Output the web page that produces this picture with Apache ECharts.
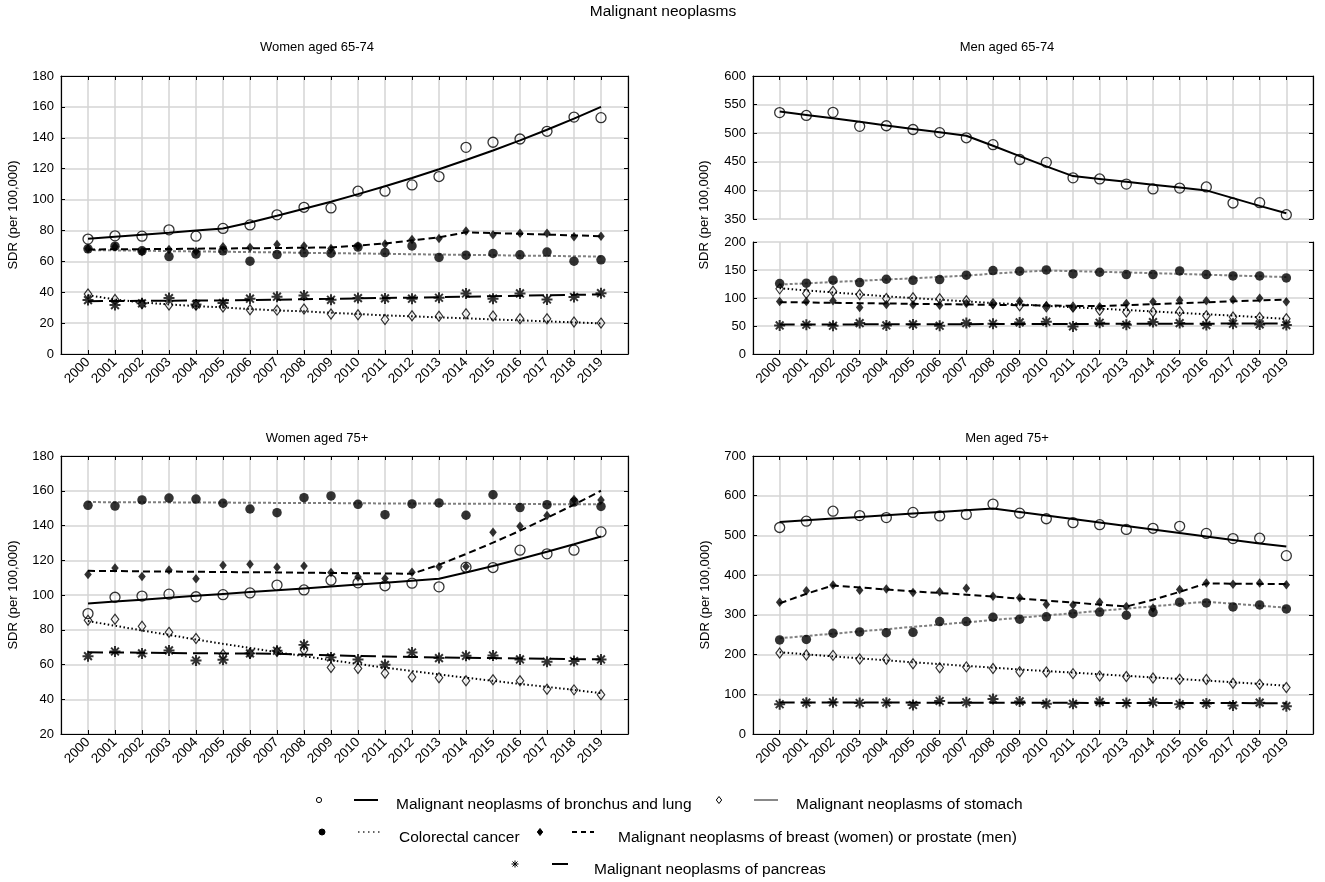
<!DOCTYPE html>
<html><head><meta charset="utf-8">
<script src="https://cdn.jsdelivr.net/npm/echarts@6/dist/echarts.min.js"></script>
<style>html,body{margin:0;padding:0;background:#fff}#c{width:1325px;height:882px}</style>
</head><body><div id="c"></div>
<script>
const years = [2000,2001,2002,2003,2004,2005,2006,2007,2008,2009,2010,2011,2012,2013,2014,2015,2016,2017,2018,2019];

// Women aged 65-74
const w65_lung_obs   = [74.4,76.5,76.3,80.4,76.3,81.3,83.6,90.1,95.0,94.6,105.4,105.4,109.5,114.9,133.8,137.1,139.2,144.2,153.4,153.0];
const w65_lung_fit   = [74.6,75.9,77.2,78.5,79.9,81.2,85.2,89.5,94.0,98.6,103.5,108.6,114.0,119.6,125.6,131.8,138.3,145.2,152.4,160.0];
const w65_crc_obs    = [68.1,69.8,66.8,63.1,64.7,66.8,60.1,64.4,65.5,65.3,69.2,65.7,70.0,62.5,64.0,65.1,64.2,66.0,60.1,61.0];
const w65_crc_fit    = [67.3,67.1,66.9,66.6,66.4,66.2,66.0,65.8,65.5,65.3,65.1,64.9,64.6,64.4,64.2,64.0,63.7,63.5,63.3,63.1];
const w65_stom_obs   = [38.8,35.3,32.5,31.7,31.5,30.4,28.7,28.4,29.1,25.9,25.4,22.4,24.8,24.4,26.1,24.6,22.8,22.8,20.7,20.0];
const w65_stom_fit   = [38.1,35.3,33.4,32.1,31.0,30.2,29.1,28.2,27.6,26.7,25.9,25.0,24.4,23.7,23.1,22.4,21.8,21.1,20.5,19.8];
const w65_breast_obs = [68.1,69.4,66.2,67.7,66.5,69.4,69.0,70.9,70.0,68.3,70.0,71.3,74.1,74.8,79.7,77.2,78.2,78.2,75.9,76.3];
const w65_breast_fit = [67.7,67.8,67.9,68.0,68.2,68.3,68.5,68.6,68.8,69.0,70.2,71.6,73.6,75.6,78.8,78.3,77.8,77.3,76.8,76.3];
const w65_panc_obs   = [34.9,31.7,32.8,36.2,32.1,33.0,35.8,37.1,37.9,35.1,36.2,36.0,35.8,36.4,39.2,35.8,39.2,35.3,36.9,39.4];
const w65_panc_fit   = [34.2,34.3,34.4,34.5,34.6,34.7,35.0,35.2,35.5,35.7,36.0,36.3,36.5,36.8,37.1,37.4,37.7,38.0,38.3,38.6];

// Men aged 65-74
const m65_lung_obs   = [536,531,536.5,512,513,506.5,501,492,480,454,449,422,420,411,402.5,404,406,378,378.5,357.5];
const m65_lung_fit   = [538,532,526,520,513.5,507.5,501.5,495.5,478,460,442,425,420,415,410,405,400,386.5,373,360];
const m65_crc_obs    = [125.8,126.4,131.8,127.6,133.5,131.5,132.9,140.7,149.0,147.8,150.1,143.0,146.0,141.8,141.8,148.4,141.8,139.5,139.5,135.9];
const m65_crc_fit    = [124,126.2,128.5,130.7,133,135.3,137.6,140,143.5,146.5,149,148,146.8,145.6,144.4,143,141.6,140.2,138.8,137.4];
const m65_stom_obs   = [116.3,108.0,112.2,106.2,99.1,100.3,98.5,95.0,89.6,86.0,84.3,83.7,78.3,74.8,74.8,76.0,68.2,65.9,65.3,62.9];
const m65_stom_fit   = [117.5,113.5,110,106.5,103,100,97,94,91,88.5,86,83.5,81,78.5,76,73.5,71,68.5,65.5,62.5];
const m65_prost_obs  = [93.8,93.8,95.0,83.1,88.4,87.8,87.2,90.2,89.0,94.4,85.5,83.1,84.3,90.2,93.2,96.1,95.0,96.7,99.7,93.2];
const m65_prost_fit  = [92.6,92.0,91.4,90.8,90.2,89.6,89.0,88.4,87.8,87.2,86.6,86.0,85.5,87.2,88.9,90.6,92.3,94.0,95.7,97.3];
const m65_panc_obs   = [51.0,52.2,50.4,55.2,51.0,52.8,50.4,55.2,54.0,56.4,57.6,49.3,55.8,52.2,57.0,55.2,51.6,54.0,52.8,51.6];
const m65_panc_fit   = [52.6,52.7,52.8,52.9,53.0,53.1,53.2,53.3,53.4,53.5,53.6,53.7,53.8,53.9,54.0,54.1,54.2,54.3,54.4,54.5];

// Women aged 75+
const w75_lung_obs   = [89.3,98.7,99.4,100.5,99.0,100.2,101.2,105.7,102.9,108.5,107.0,105.3,106.8,104.7,116.0,115.8,125.8,123.7,125.8,136.3];
const w75_lung_fit   = [95.1,96.2,97.3,98.4,99.5,100.6,101.7,102.7,103.8,104.9,106.0,107.1,108.2,109.3,112.9,116.7,120.7,124.9,129.2,133.7];
const w75_crc_obs    = [151.6,151.2,154.7,155.8,155.2,152.8,149.5,147.4,156.0,157.0,152.2,146.2,152.4,153.0,145.9,157.7,150.3,152.0,153.5,151.0];
const w75_crc_fit    = [153.5,153.4,153.4,153.3,153.2,153.2,153.1,153.0,152.9,152.9,152.8,152.7,152.7,152.6,152.5,152.5,152.4,152.3,152.3,152.2];
const w75_stom_obs   = [85.5,86.0,82.0,78.5,75.0,65.8,66.5,67.5,68.3,58.3,57.7,55.0,52.8,52.4,50.6,51.2,50.6,45.8,45.4,42.6];
const w75_stom_fit   = [85.0,82.3,79.6,77.0,74.4,71.9,69.5,67.1,64.8,62.5,60.3,58.2,56.2,54.3,52.4,50.6,48.8,47.1,45.4,43.5];
const w75_breast_obs = [111.8,115.6,110.6,114.4,109.3,117.1,117.7,116.0,116.7,112.9,110.4,109.5,113.1,116.2,116.4,136.1,139.5,145.7,154.9,154.7];
const w75_breast_fit = [113.9,113.8,113.6,113.5,113.4,113.2,113.1,113.0,112.8,112.7,112.5,112.4,112.2,117.4,123.6,130.1,137.0,144.4,152.0,160.0];
const w75_panc_obs   = [64.8,67.5,66.4,68.1,62.3,62.7,66.4,67.9,71.3,64.1,62.9,59.8,66.9,63.7,65.0,65.2,62.9,61.6,62.0,62.9];
const w75_panc_fit   = [67.0,66.9,66.8,66.6,66.5,66.4,66.3,66.2,65.7,65.3,64.9,64.6,64.3,64.1,63.9,63.7,63.5,63.3,63.1,63.0];

// Men aged 75+
const m75_lung_obs   = [520,536,561,550,545,558,549,553,579,556,542,532,527,515,518,523,505,492,493,449];
const m75_lung_fit   = [534,538.2,542.4,546.6,550.8,555,559.2,563.4,567.6,558.8,550,541.2,532.4,523.6,514.8,506,497.2,488.4,479.6,472];
const m75_crc_obs    = [237,238,254,257,255,256,283,283,294,289,295,303,307,299,306,332,330,320,325,315];
const m75_crc_fit    = [241,246.8,252.5,258.3,264,269.8,275.5,281.3,287,292.8,298.5,304.3,310,315.8,321.5,327.3,333,328,323,318];
const m75_stom_obs   = [204,199,198,189,188,177,167,169,165,157,156,152,146,145,141,138,137,128,125,117];
const m75_stom_fit   = [206,200.5,195.5,190.5,185.5,180.5,176,171.5,167,162.5,158.5,154.5,150.5,146.5,142.5,138.5,134.5,130.5,126,121.5];
const m75_prost_obs  = [332,361,375,362,365,356,358,367,347,343,326,325,332,321,317,364,380,377,380,376];
const m75_prost_fit  = [329,353,374,369,364,359.5,355,350.5,346,341,336,331,326,321,338,358,379,378.5,378,377.5];
const m75_panc_obs   = [75,79,80,78,79,73,83,80,88,82,76,76,81,78,80,75,77,72,79,70];
const m75_panc_fit   = [79.5,79.4,79.3,79.2,79.1,79,78.9,78.8,78.7,78.6,78.5,78.4,78.3,78.2,78.1,78,77.9,77.8,77.7,77.6];

const mainTitle = 'Malignant neoplasms';
const panelTitles = ['Women aged 65-74','Men aged 65-74','Women aged 75+','Men aged 75+'];
const yName = 'SDR (per 100,000)';
const legendLabels = ['Malignant neoplasms of bronchus and lung','Malignant neoplasms of stomach','Colorectal cancer','Malignant neoplasms of breast (women) or prostate (men)','Malignant neoplasms of pancreas'];

const FONT = 'Arial, "Liberation Sans", sans-serif';
const GRIDC = '#d4d4d4';
const ASTERISK = 'path://M-0.9,-5L0.9,-5L0.9,5L-0.9,5Z M-5,-0.9L5,-0.9L5,0.9L-5,0.9Z M-4.17,-2.9L-2.9,-4.17L4.17,2.9L2.9,4.17Z M-2.9,4.17L-4.17,2.9L2.9,-4.17L4.17,-2.9Z';

const grids = [
  {left:61, top:76, width:567, height:278},
  {left:753, top:76, width:560, height:143},
  {left:753, top:242, width:560, height:112},
  {left:61, top:456, width:567, height:278},
  {left:753, top:456, width:560, height:278}
];

const xAxis = [], yAxis = [];
function addAxes(gi, o) {
  xAxis.push({gridIndex:gi, type:'value', min:1999, max:2020, interval:1, position:'bottom',
    axisLine:{show:o.bottomLine, onZero:false, lineStyle:{color:'#000', width:1.2}},
    axisTick:{show:o.bottomLine, inside:true, length:4, lineStyle:{color:'#000'}},
    axisLabel:{show:o.labels, rotate:45, fontSize:13.5, color:'#000', fontFamily:FONT, margin:6,
      formatter: v => (v>=2000 && v<=2019) ? String(v) : ''},
    splitLine:{show:true, lineStyle:{color:GRIDC, width:1.5}}});
  xAxis.push({gridIndex:gi, type:'value', min:1999, max:2020, interval:1, position:'top',
    axisLine:{show:o.topLine, onZero:false, lineStyle:{color:'#000', width:1.2}},
    axisTick:{show:o.topLine, inside:true, length:4, lineStyle:{color:'#000'}},
    axisLabel:{show:false}, splitLine:{show:false}});
  const yl = {gridIndex:gi, type:'value', min:o.min, max:o.max, interval:o.interval, position:'left',
    axisLine:{show:true, onZero:false, lineStyle:{color:'#000', width:1.2}},
    axisTick:{show:true, inside:true, length:4, lineStyle:{color:'#000'}},
    axisLabel:{fontSize:13, color:'#000', fontFamily:FONT, margin:7},
    splitLine:{show:true, lineStyle:{color:GRIDC, width:1.5}}};
  if (o.name) { yl.name = yName; yl.nameLocation = 'middle'; yl.nameGap = 41;
    yl.nameTextStyle = {fontSize:13, color:'#000', fontFamily:FONT}; }
  yAxis.push(yl);
  yAxis.push({gridIndex:gi, type:'value', min:o.min, max:o.max, interval:o.interval, position:'right',
    axisLine:{show:true, onZero:false, lineStyle:{color:'#000', width:1.2}},
    axisTick:{show:true, inside:true, length:4, lineStyle:{color:'#000'}},
    axisLabel:{show:false}, splitLine:{show:false}});
}
addAxes(0, {labels:true, bottomLine:true, topLine:true, min:0, max:180, interval:20, name:true});
addAxes(1, {labels:false, bottomLine:false, topLine:true, min:350, max:600, interval:50, name:false});
addAxes(2, {labels:true, bottomLine:true, topLine:false, min:0, max:200, interval:50, name:false});
addAxes(3, {labels:true, bottomLine:true, topLine:true, min:20, max:180, interval:20, name:true});
addAxes(4, {labels:true, bottomLine:true, topLine:true, min:0, max:700, interval:100, name:true});

const pts = arr => years.map((y,i) => [y, arr[i]]);
const MARK = {
  lung:   {symbol:'circle', symbolSize:10, itemStyle:{color:'rgba(255,255,255,0)', borderColor:'#000', borderWidth:1.3}},
  crc:    {symbol:'circle', symbolSize:9.5, itemStyle:{color:'#000'}},
  stom:   {symbol:'diamond', symbolSize:[7.5,10], itemStyle:{color:'rgba(255,255,255,0)', borderColor:'#000', borderWidth:1.2}},
  breast: {symbol:'diamond', symbolSize:[7.5,9.5], itemStyle:{color:'#000'}},
  panc:   {symbol:ASTERISK, symbolSize:11, itemStyle:{color:'#000'}}
};
const LINE = {
  lung:   {color:'#000', width:2, type:'solid'},
  crc:    {color:'#808080', width:2, type:[3,2]},
  stom:   {color:'#000', width:2, type:[1.5,2.5]},
  breast: {color:'#000', width:2, type:[7,4]},
  panc:   {color:'#000', width:2, type:[15,6]}
};
const series = [];
function add(gi, kind, obs, fit) {
  const ax = gi*2;
  series.push({type:'line', xAxisIndex:ax, yAxisIndex:ax, data:pts(fit), showSymbol:false, symbol:'none',
    lineStyle:LINE[kind], z:3, silent:true, animation:false});
  series.push(Object.assign({type:'scatter', xAxisIndex:ax, yAxisIndex:ax, data:pts(obs), z:5, silent:true, animation:false}, MARK[kind]));
}
add(0,'crc',w65_crc_obs,w65_crc_fit);
add(0,'stom',w65_stom_obs,w65_stom_fit);
add(0,'panc',w65_panc_obs,w65_panc_fit);
add(0,'breast',w65_breast_obs,w65_breast_fit);
add(0,'lung',w65_lung_obs,w65_lung_fit);

add(1,'lung',m65_lung_obs,m65_lung_fit);
add(2,'crc',m65_crc_obs,m65_crc_fit);
add(2,'stom',m65_stom_obs,m65_stom_fit);
add(2,'panc',m65_panc_obs,m65_panc_fit);
add(2,'breast',m65_prost_obs,m65_prost_fit);

add(3,'crc',w75_crc_obs,w75_crc_fit);
add(3,'stom',w75_stom_obs,w75_stom_fit);
add(3,'panc',w75_panc_obs,w75_panc_fit);
add(3,'breast',w75_breast_obs,w75_breast_fit);
add(3,'lung',w75_lung_obs,w75_lung_fit);

add(4,'crc',m75_crc_obs,m75_crc_fit);
add(4,'stom',m75_stom_obs,m75_stom_fit);
add(4,'panc',m75_panc_obs,m75_panc_fit);
add(4,'breast',m75_prost_obs,m75_prost_fit);
add(4,'lung',m75_lung_obs,m75_lung_fit);

const tStyle = fs => ({fontSize:fs, fontWeight:'normal', color:'#000', fontFamily:FONT});
const title = [
  {text:mainTitle, left:663, top:4, textAlign:'center', padding:0, textStyle:tStyle(15.5)},
  {text:panelTitles[0], left:317, top:41, textAlign:'center', padding:0, textStyle:tStyle(13)},
  {text:panelTitles[1], left:1007, top:41, textAlign:'center', padding:0, textStyle:tStyle(13)},
  {text:panelTitles[2], left:317, top:432, textAlign:'center', padding:0, textStyle:tStyle(13)},
  {text:panelTitles[3], left:1007, top:432, textAlign:'center', padding:0, textStyle:tStyle(13)}
];

// legend drawn as graphic elements
const LF = 15.5;
function txt(x, y, s) { return {type:'text', x:x, y:y, style:{text:s, fontSize:LF, fontFamily:FONT, fill:'#000', verticalAlign:'middle', align:'left'}, silent:true}; }
function seg(x1, x2, y, stroke, w, dash) { return {type:'line', shape:{x1:x1, y1:y, x2:x2, y2:y}, style:{stroke:stroke, lineWidth:w, lineDash:dash || null}, silent:true}; }
function dia(x, y, filled) { return {type:'polygon', shape:{points:[[x,y-3.5],[x+2.7,y],[x,y+3.5],[x-2.7,y]]}, style:{fill:filled?'#000':'#fff', stroke:'#000', lineWidth:1}, silent:true}; }
function circ(x, y, r, filled) { return {type:'circle', shape:{cx:x, cy:y, r:r}, style:{fill:filled?'#000':'#fff', stroke:'#000', lineWidth:1}, silent:true}; }
function ast(x, y) {
  const a = 3.5, d = 2.5;
  return {type:'group', silent:true, children:[
    {type:'line', shape:{x1:x, y1:y-a, x2:x, y2:y+a}, style:{stroke:'#000', lineWidth:1}},
    {type:'line', shape:{x1:x-a, y1:y, x2:x+a, y2:y}, style:{stroke:'#000', lineWidth:1}},
    {type:'line', shape:{x1:x-d, y1:y-d, x2:x+d, y2:y+d}, style:{stroke:'#000', lineWidth:1}},
    {type:'line', shape:{x1:x-d, y1:y+d, x2:x+d, y2:y-d}, style:{stroke:'#000', lineWidth:1}}
  ]};
}
const graphic = [
  circ(319, 800, 2.6, false), seg(354, 378, 800, '#000', 2), txt(396, 805, legendLabels[0]),
  dia(719, 800, false), seg(754, 778, 800, '#888', 2), txt(796, 805, legendLabels[1]),
  circ(322, 832, 3, true), seg(358, 382, 832, '#333', 1.3, [1.5, 3.5]), txt(399, 838, legendLabels[2]),
  dia(540, 832, true), seg(572, 594, 832, '#000', 2, [5, 4]), txt(618, 838, legendLabels[3]),
  ast(515, 864), seg(552, 568, 864, '#000', 2), txt(594, 870, legendLabels[4]),
  {type:'text', x:704, y:215, rotation:Math.PI/2, style:{text:yName, fontSize:13, fontFamily:FONT, fill:'#000', align:'center', verticalAlign:'middle'}, silent:true}
];

const chart = echarts.init(document.getElementById('c'));
chart.setOption({
  animation:false,
  backgroundColor:'#fff',
  textStyle:{fontFamily:FONT},
  title:title,
  grid:grids,
  xAxis:xAxis,
  yAxis:yAxis,
  series:series,
  graphic:graphic
});
</script>
</body></html>
